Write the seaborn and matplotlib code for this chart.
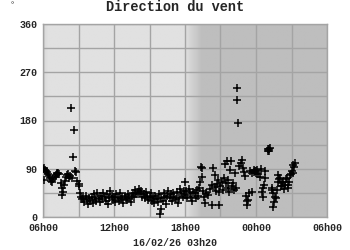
import numpy as np
import pandas as pd
import matplotlib
matplotlib.use("Agg")
import matplotlib.pyplot as plt
import seaborn as sns

# ---- data (hours after 06h00, wind direction in degrees) ----
heures = [
    0.00, 0.05, 0.06, 0.15, 0.25, 0.33, 0.42, 0.50, 0.58, 0.67, 0.75, 0.83,
    1.00, 1.08, 1.17, 1.20, 1.25, 1.33, 1.50, 1.58, 1.62, 1.67, 1.75, 1.83,
    1.92, 2.00, 2.08, 2.17, 2.25, 2.39, 2.47, 2.54, 2.59, 2.70, 2.80, 2.90,
    3.00, 3.05, 3.12, 3.20, 3.30, 3.40, 3.50, 3.60, 3.70, 3.80, 3.90, 4.00,
    4.10, 4.20, 4.30, 4.40, 4.50, 4.60, 4.70, 4.80, 4.90, 5.00, 5.10, 5.20,
    5.30, 5.40, 5.50, 5.60, 5.70, 5.80, 5.90, 6.00, 6.10, 6.20, 6.30, 6.40,
    6.50, 6.60, 6.70, 6.80, 6.90, 7.00, 7.10, 7.20, 7.30, 7.40, 7.50, 7.60,
    7.70, 7.80, 7.90, 8.00, 8.10, 8.20, 8.30, 8.40, 8.50, 8.60, 8.70, 8.80,
    8.90, 9.00, 9.10, 9.20, 9.30, 9.40, 9.50, 9.60, 9.70, 9.80, 9.89, 9.95,
    10.00, 10.10, 10.20, 10.30, 10.40, 10.50, 10.60, 10.70, 10.80, 10.90,
    11.00, 11.10, 11.20, 11.30, 11.44, 11.50, 11.60, 11.70, 11.80, 11.90,
    12.00, 12.02, 12.10, 12.20, 12.30, 12.40, 12.50, 12.60, 12.70, 12.85,
    12.90, 13.00, 13.10, 13.20, 13.27, 13.33, 13.41, 13.45, 13.50, 13.60,
    13.69, 13.80, 13.97, 14.10, 14.26, 14.30, 14.40, 14.50, 14.54, 14.60,
    14.70, 14.82, 14.85, 14.90, 15.00, 15.10, 15.20, 15.30, 15.38, 15.45,
    15.53, 15.60, 15.66, 15.70, 15.80, 15.89, 16.00, 16.09, 16.15, 16.23,
    16.28, 16.37, 16.42, 16.51, 16.60, 16.70, 16.80, 16.90, 16.95, 17.07,
    17.15, 17.22, 17.28, 17.33, 17.40, 17.50, 17.64, 17.70, 17.80, 17.85,
    17.92, 17.97, 18.00, 18.10, 18.20, 18.30, 18.40, 18.49, 18.55, 18.62,
    18.70, 18.77, 18.79, 19.00, 19.05, 19.10, 19.13, 19.20, 19.33, 19.36,
    19.42, 19.47, 19.55, 19.61, 19.68, 19.75, 19.82, 19.89, 19.95, 20.03,
    20.10, 20.18, 20.20, 20.30, 20.38, 20.46, 20.52, 20.60, 20.67, 20.74,
    20.80, 20.88, 20.95, 21.02, 21.10, 21.16, 21.22, 21.30,
]
direction = [
    90, 92, 69, 88, 86, 84, 80, 76, 72, 68, 66, 70,
    75, 78, 80, 82, 83, 81, 64, 54, 41, 46, 60, 68,
    75, 79, 81, 73, 77, 204, 72, 111, 163, 85, 84, 67,
    58, 62, 45, 38, 33, 35, 28, 40, 32, 25, 36, 30,
    38, 26, 42, 34, 30, 44, 36, 28, 40, 34, 45, 38,
    30, 42, 25, 36, 48, 40, 32, 38, 28, 42, 35, 30,
    45, 33, 38, 27, 40, 35, 31, 43, 36, 28, 40, 45,
    38, 50, 42, 47, 52, 44, 48, 38, 42, 35, 46, 40,
    32, 38, 44, 30, 36, 26, 40, 33, 28, 42, 5, 15,
    36, 30, 44, 38, 25, 40, 48, 35, 42, 30,
    45, 38, 33, 47, 26, 36, 52, 44, 38, 48,
    41, 66, 48, 35, 52, 44, 38, 30, 46, 44,
    36, 50, 40, 55, 66, 94, 74, 92, 48, 38,
    26, 45, 41, 52, 23, 60, 91, 56, 79, 48,
    62, 69, 47, 23, 58, 66, 50, 72, 98, 64,
    104, 55, 69, 47, 88, 104, 58, 63, 50, 82,
    55, 218, 240, 176, 95, 100, 107, 92, 84, 76,
    40, 23, 30, 32, 44, 86, 47, 82, 88, 84,
    85, 86, 83, 88, 80, 74, 90, 47, 54, 38,
    60, 72, 85, 124, 127, 126, 124, 128, 54, 51,
    44, 19, 28, 38, 35, 51, 66, 79, 70, 72,
    58, 63, 57, 66, 52, 60, 70, 72, 55, 60,
    66, 79, 80, 85, 82, 97, 94, 101,
]
x_ticks = [0, 6, 12, 18, 24]
x_labels = ["06h00", "12h00", "18h00", "00h00", "06h00"]
y_ticks = [0, 90, 180, 270, 360]
titre = "Direction du vent"
date_txt = "16/02/26 03h20"

df = pd.DataFrame({"h": heures, "dir": direction})

sns.set_style("white")
plt.rcParams["font.family"] = ["Liberation Mono", "DejaVu Sans Mono"]

fig = plt.figure(figsize=(3.5, 2.5), dpi=100)
fig.patch.set_facecolor("white")
ax = fig.add_axes([43 / 350, 1 - 217 / 250, 284 / 350, 193 / 250])

# background: day (light) / night (dark) with gradient
xs = np.linspace(0, 24, 600)
shade = np.interp(xs, [0, 0.4, 12.0, 13.4, 24], [0.84, 0.88, 0.88, 0.745, 0.745])
ax.imshow(np.tile(shade, (2, 1)), cmap="gray", vmin=0, vmax=1, aspect="auto",
          extent=[0, 24, 0, 360], zorder=0, interpolation="bilinear")

sns.scatterplot(data=df, x="h", y="dir", marker="+", s=32, color="black",
                linewidth=1.1, ax=ax, zorder=3, legend=False)

ax.set_xlim(0, 24)
ax.set_ylim(0, 360)
ax.set_xticks(x_ticks)
ax.set_xticks([3, 9, 15, 21], minor=True)
ax.set_xticklabels(x_labels)
ax.set_yticks(y_ticks)
ax.set_yticks([45, 135, 225, 315], minor=True)
ax.set_yticklabels([str(v) for v in y_ticks])
ax.grid(True, which="both", color="#a4a4a4", linewidth=1.0, zorder=1)
ax.set_axisbelow(True)
for sp in ax.spines.values():
    sp.set_color("#a4a4a4")
    sp.set_linewidth(1.0)
ax.tick_params(axis="x", which="both", length=0, pad=4.5, labelsize=7.2)
ax.tick_params(axis="y", which="major", length=3, width=0.8, color="#555555",
               pad=1, labelsize=7.2)
ax.tick_params(axis="y", which="minor", length=0)
for lab in ax.get_xticklabels() + ax.get_yticklabels():
    lab.set_fontweight("bold")
ax.get_yticklabels()[0].set_verticalalignment("center_baseline")
ax.set_xlabel("")
ax.set_ylabel("")

fig.text(0.5, 1 - 7 / 250, titre, ha="center", va="center", fontsize=9.8,
         fontweight="bold")
fig.text(12 / 350, 1 - 6 / 250, "°", ha="center", va="center", fontsize=6)
fig.text(175 / 350, 1 - 243 / 250, date_txt, ha="center", va="center",
         fontsize=7.2, fontweight="bold")

fig.savefig("out.png", dpi=100)
